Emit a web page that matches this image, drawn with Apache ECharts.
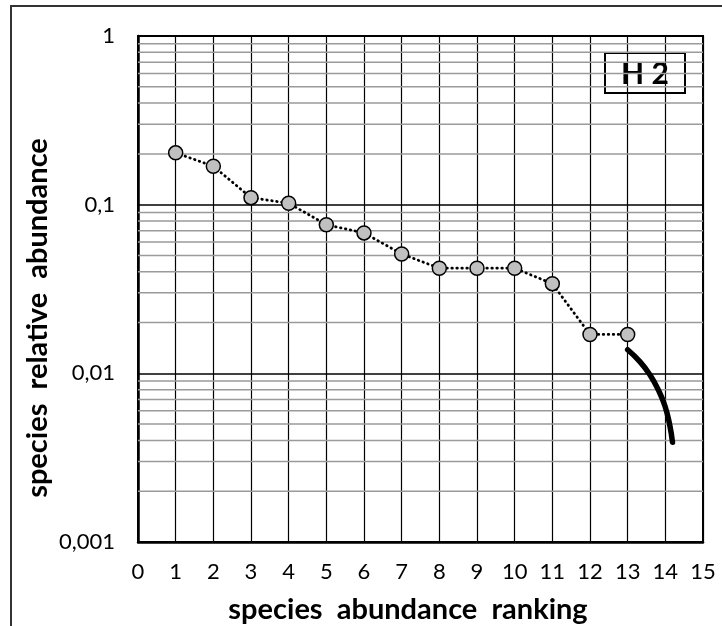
<!DOCTYPE html>
<html>
<head>
<meta charset="utf-8">
<script src="https://cdn.jsdelivr.net/npm/echarts@6/dist/echarts.min.js"></script>
<style>
html,body{margin:0;padding:0;background:#fff;}
#chart{width:722px;height:626px;}
</style>
</head>
<body>
<div id="chart"></div>
<script>
// ---- data ----
var ranks = [1,2,3,4,5,6,7,8,9,10,11,12,13];
var abundance = [0.203,0.169,0.110,0.102,0.076,0.068,0.051,0.042,0.042,0.042,0.034,0.017,0.017];
var tailX = [13.0,13.33,13.59,13.81,13.99,14.12,14.19];
var tailY = [0.0138,0.0117,0.0098,0.0080,0.0064,0.0049,0.0039];
var yTickLabels = {'-3':'0,001','-2':'0,01','-1':'0,1','0':'1'};
var minorLevels = [2,3,4,5,6,7,8,9];
var decades = [0.001,0.01,0.1];
var panelLabel = 'H 2';
var xName = 'species  abundance  ranking';
var yName = 'species  relative  abundance';

var FONT = 'Lato';
var minorSeries = [];
decades.forEach(function(d){
  minorLevels.forEach(function(m){
    var v = +(d*m).toPrecision(3);
    minorSeries.push({
      type:'line', silent:true, symbol:'none', showSymbol:false,
      data:[[0,v],[15,v]],
      lineStyle:{color:'#9a9a9a', width:1.5},
      z:1
    });
  });
});

var chart = echarts.init(document.getElementById('chart'), null, {renderer:'canvas'});
chart.setOption({
  animation: false,
  backgroundColor: '#fff',
  grid: {left:138, top:36, right:19, bottom:84, show:true, borderColor:'#000', borderWidth:2, backgroundColor:'transparent'},
  xAxis: {
    type:'value', min:0, max:15, interval:1,
    axisLine:{show:true, lineStyle:{color:'#000', width:2.5}},
    axisTick:{show:false},
    axisLabel:{fontFamily:FONT, fontSize:22, color:'#000', margin:19},
    splitLine:{show:true, lineStyle:{color:'#000', width:1.2}}
  },
  yAxis: {
    type:'log', logBase:10, min:0.001, max:1, interval:1,
    axisLine:{show:true, lineStyle:{color:'#000', width:2.5}},
    axisTick:{show:false},
    axisLabel:{fontFamily:FONT, fontSize:22, color:'#000', margin:23,
      formatter:function(v){ var e = Math.round(Math.log10(v)); return yTickLabels[String(e)] || ''; }},
    splitLine:{show:true, lineStyle:{color:'#000', width:1.6}}
  },
  graphic: [
    {type:'rect', shape:{x:11, y:6, width:900, height:900}, style:{fill:'none', stroke:'#333', lineWidth:2}, z:-10, silent:true},
    {type:'text', x:38, y:318, rotation:Math.PI/2, style:{text:yName, fontFamily:FONT, fontWeight:'bold', fontSize:29, fill:'#000', align:'center', verticalAlign:'middle'}, z:10},
    {type:'text', x:408, y:610, style:{text:xName, fontFamily:FONT, fontWeight:'bold', fontSize:29, fill:'#000', align:'center', verticalAlign:'middle'}, z:10},
    {type:'group', left:604, top:52, z:20, children:[
      {type:'rect', shape:{x:0, y:0, width:80, height:40}, style:{fill:'#fff', stroke:'#000', lineWidth:2}},
      {type:'text', x:40, y:21, style:{text:panelLabel, fontFamily:FONT, fontWeight:'bold', fontSize:30, fill:'#000', align:'center', verticalAlign:'middle'}}
    ]}
  ],
  series: minorSeries.concat([
    {
      type:'line', smooth:true, showSymbol:false, symbol:'none',
      data: tailX.map(function(x,i){return [x, tailY[i]];}),
      lineStyle:{color:'#000', width:5.5, cap:'round'}, z:3
    },
    {
      type:'line',
      data: ranks.map(function(r,i){return [r, abundance[i]];}),
      symbol:'circle', symbolSize:14,
      itemStyle:{color:'#c0c0c0', borderColor:'#000', borderWidth:1.5},
      lineStyle:{color:'#000', width:2.8, type:[0.5,4.5], cap:'round'},
      z:4
    }
  ])
});
</script>
</body>
</html>
